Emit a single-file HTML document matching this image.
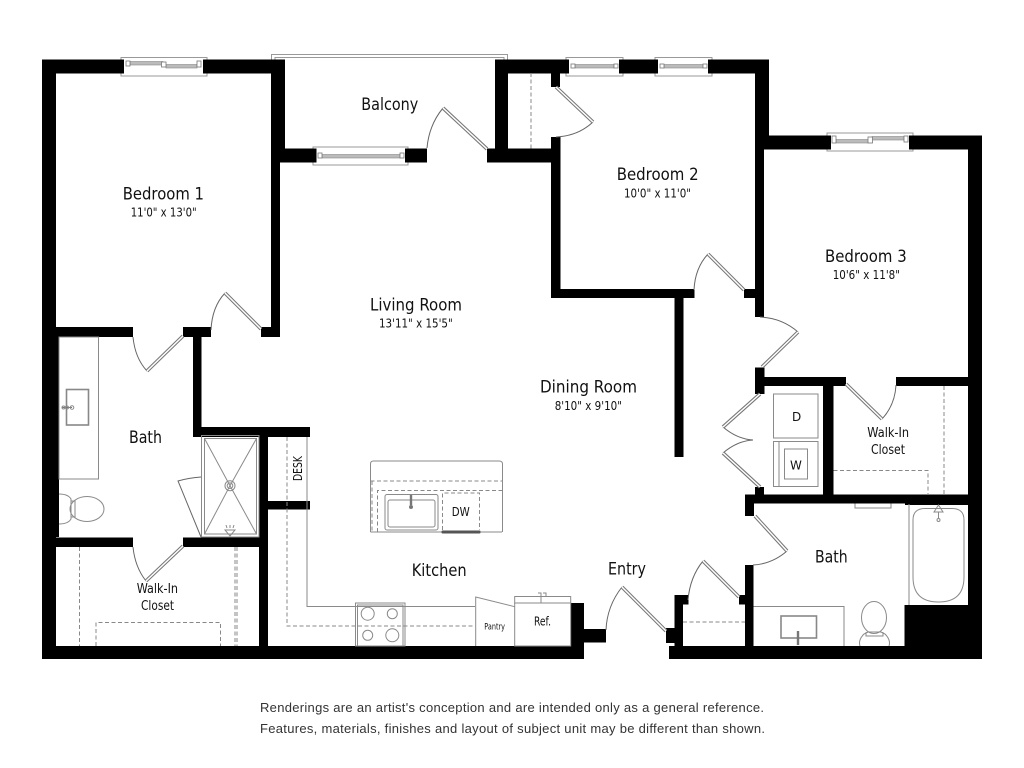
<!DOCTYPE html>
<html lang="en"><head><meta charset="utf-8"><title>Floor plan</title>
<style>
html,body{margin:0;padding:0;background:#fff;width:1024px;height:768px;overflow:hidden}
svg{display:block}
text{font-family:"DejaVu Sans","Liberation Sans",sans-serif;fill:#111}
.big{font-size:17px}.sm{font-size:12px}.mid{font-size:13px}
.foot{font-family:"Liberation Sans",Arial,sans-serif;font-size:13px;fill:#333}
.g{fill:none;stroke:#8a8a8a;stroke-width:1}
.d{fill:none;stroke:#888;stroke-width:1;stroke-dasharray:4 2.5}
.arc{fill:none;stroke:#666;stroke-width:1}
.lo{stroke:#777;stroke-width:3.6;fill:none}
.li{stroke:#fff;stroke-width:1.5;fill:none}
.w{fill:#fff;stroke:#999;stroke-width:1}
.s{fill:#bbb;stroke:#888;stroke-width:.6}
.j{fill:#fff;stroke:#777;stroke-width:.8}
</style></head><body>
<svg width="1024" height="768" viewBox="0 0 1024 768" xmlns="http://www.w3.org/2000/svg">
<rect width="1024" height="768" fill="#fff"/>

<!-- balcony rail -->
<path d="M271.5 60V54.5H507.5V60M275 60V57.5H504V60" fill="none" stroke="#999" stroke-width="1"/>

<!-- windows -->
<rect class="w" x="121" y="57.5" width="86" height="18.5"/>
<rect class="s" x="130" y="61.5" width="33" height="3.5"/><rect class="s" x="166" y="64.5" width="31" height="3.5"/>
<rect class="j" x="126" y="61" width="4" height="5"/><rect class="j" x="161.5" y="62" width="4.5" height="5"/><rect class="j" x="197" y="61" width="4" height="6"/>
<rect class="w" x="313" y="147" width="95" height="18"/>
<rect class="s" x="322" y="154.5" width="78" height="3.5"/>
<rect class="j" x="318" y="153" width="4" height="5"/><rect class="j" x="400" y="153" width="4" height="5"/>
<rect class="w" x="566" y="57.5" width="57" height="18.5"/>
<rect class="s" x="575" y="64.5" width="39" height="3.5"/>
<rect class="j" x="571" y="64" width="4" height="4"/><rect class="j" x="614" y="64" width="4" height="4"/>
<rect class="w" x="655" y="57.5" width="57" height="18.5"/>
<rect class="s" x="664" y="64.5" width="39" height="3.5"/>
<rect class="j" x="660" y="64" width="4" height="4"/><rect class="j" x="703" y="64" width="4" height="4"/>
<rect class="w" x="827" y="133" width="86" height="18"/>
<rect class="s" x="836" y="139.5" width="33" height="3.5"/><rect class="s" x="872" y="136.5" width="32" height="3.5"/>
<rect class="j" x="832" y="136" width="4" height="7"/><rect class="j" x="868" y="137" width="4.5" height="6"/><rect class="j" x="904" y="136" width="4" height="6"/>

<!-- walls -->
<g fill="#000">
<rect x="42" y="59.5" width="14" height="599.5"/>
<rect x="42" y="59.5" width="82" height="14"/>
<rect x="203" y="59.5" width="82" height="14"/>
<rect x="271" y="59.5" width="14" height="103"/>
<rect x="271" y="148.5" width="45.5" height="14"/>
<rect x="271" y="162" width="9" height="175"/>
<rect x="405" y="148.5" width="22" height="14"/>
<rect x="487" y="148.5" width="65" height="14"/>
<rect x="495" y="59.5" width="13" height="90"/>
<rect x="495" y="59.5" width="74" height="14"/>
<rect x="551" y="73" width="9" height="14"/>
<rect x="551" y="137" width="9.5" height="161"/>
<rect x="619" y="59.5" width="39" height="14"/>
<rect x="708" y="59.5" width="61" height="14"/>
<rect x="755" y="59.5" width="14" height="90"/>
<rect x="755" y="135.5" width="76" height="14"/>
<rect x="755" y="149" width="9" height="168"/>
<rect x="909" y="135.5" width="73" height="14"/>
<rect x="968" y="135.5" width="14" height="523.5"/>
<rect x="551" y="289" width="143.5" height="9"/>
<rect x="744" y="289" width="12" height="9"/>
<rect x="674.5" y="297" width="9" height="160"/>
<rect x="56" y="327" width="77" height="10"/>
<rect x="183" y="327" width="28" height="10"/>
<rect x="261" y="327" width="19" height="10"/>
<rect x="193" y="336" width="8.5" height="101"/>
<rect x="193" y="427" width="117" height="10"/>
<rect x="259" y="427" width="9" height="225"/>
<rect x="268" y="501" width="42" height="8.5"/>
<rect x="56" y="537.5" width="77" height="9.5"/>
<rect x="183" y="537.5" width="76" height="9.5"/>
<rect x="42" y="646" width="542" height="13"/>
<rect x="669" y="646" width="313" height="13"/>
<rect x="571" y="603" width="13" height="44"/>
<rect x="579" y="629" width="27" height="13.5"/>
<rect x="666" y="628" width="8.5" height="15"/>
<rect x="674.5" y="595" width="8.5" height="52"/>
<rect x="674.5" y="595" width="14" height="9.5"/>
<rect x="739" y="595" width="6" height="9.5"/>
<rect x="745" y="565" width="8.5" height="82"/>
<rect x="745" y="495" width="9" height="21"/>
<rect x="745" y="494.5" width="223" height="9"/>
<rect x="755" y="487" width="9" height="8"/>
<rect x="755" y="367.5" width="9.5" height="26.5"/>
<rect x="764" y="377" width="82" height="9"/>
<rect x="896" y="377" width="72" height="9"/>
<rect x="823" y="385" width="10.5" height="110"/>
<rect x="904.5" y="605" width="64" height="42"/>
<rect x="905" y="503" width="64" height="2"/>
</g>

<!-- wall left thin strip in bath -->
<rect x="56" y="337" width="3" height="200" fill="#000"/>

<!-- door swings -->
<g class="arc">
<path d="M133 337Q135 358 147 371"/>
<path d="M211 330Q212 307 225 293"/>
<path d="M133 547Q135 567 146 581"/>
<path d="M427 148Q429 125 443 108"/>
<path d="M593 122Q578 136 556 137"/>
<path d="M694 290Q695 268 708 254"/>
<path d="M760 317Q782 318 798 332"/>
<path d="M896 385Q895 405 882 419"/>
<path d="M723 427Q737 439 753 440Q737 441 723 453"/>
<path d="M787 551Q772 564 753 565"/>
<path d="M688 600Q690 577 703 561"/>
<path d="M606 630Q607 606 622 587"/>
<path d="M201 477Q188 478 178 481L201 537"/>
</g>
<g class="lo">
<path d="M183 336L147 371"/><path d="M261 329L225 293"/><path d="M183 546L146 581"/>
<path d="M487 149L443 108"/><path d="M556 87L593 122"/><path d="M744 290L708 254"/>
<path d="M798 332L762 367"/><path d="M846 384L882 419"/>
<path d="M760 394L723 427"/><path d="M760 487L723 453"/>
<path d="M755 516L787 551"/><path d="M739 597L703 561"/><path d="M666 631L622 587"/>
</g>
<g class="li">
<path d="M183 336L147 371"/><path d="M261 329L225 293"/><path d="M183 546L146 581"/>
<path d="M487 149L443 108"/><path d="M556 87L593 122"/><path d="M744 290L708 254"/>
<path d="M798 332L762 367"/><path d="M846 384L882 419"/>
<path d="M760 394L723 427"/><path d="M760 487L723 453"/>
<path d="M755 516L787 551"/><path d="M739 597L703 561"/><path d="M666 631L622 587"/>
</g>

<!-- closet dashes -->
<g class="d">
<path d="M531 73V149"/>
<path d="M79.5 547V646"/>
<path d="M235 547V646M237 547V646"/>
<path d="M96 646V622.5H220.5V646"/>
<path d="M944 386V495"/>
<path d="M833.5 470.5H928V495"/>
<path d="M683 622H745"/>
<path d="M287 437V626H475"/>
<path d="M370.5 481H502"/>
<path d="M372 481V532M377.5 532V490.5H502"/>
<path d="M442.5 530V493H479.5V530"/>
</g>

<!-- left bath fixtures -->
<rect class="g" x="59" y="337" width="39.5" height="142"/>
<rect x="66.5" y="389.5" width="22" height="35.5" fill="none" stroke="#888" stroke-width="1.6"/>
<path d="M62 407.5H72" stroke="#777" stroke-width="1" fill="none"/>
<circle class="g" cx="63.5" cy="407.5" r="1.5"/><circle class="g" cx="67" cy="407.5" r="1.5"/><circle class="g" cx="72" cy="407.5" r="1.8"/>
<ellipse class="g" cx="87" cy="509" rx="17" ry="12.5"/>
<path class="g" d="M59 494Q68 494 71 499V519Q68 524 59 524M71 501H75V517H71"/>

<!-- shower -->
<rect class="g" x="201.5" y="435.5" width="57.5" height="101.5"/>
<rect class="g" x="204.5" y="438.5" width="52" height="95.5"/>
<path class="g" d="M204.5 438.5L230 485.7L256.5 438.5M204.5 534L230 485.7L256.5 534"/>
<circle class="g" cx="230" cy="485.7" r="5"/><circle class="g" cx="230" cy="485.7" r="2.8"/>
<path class="g" d="M225 530H235L230 536ZM227 528L226 525M230 528V525M233 528L234 525"/>

<!-- desk, counter -->
<path class="g" d="M307 437V606.5H475"/>

<!-- range -->
<rect class="g" x="355.5" y="603" width="49.5" height="43"/>
<rect class="g" x="357.5" y="605" width="45.5" height="41"/>
<circle class="g" cx="367.7" cy="613.7" r="6.5"/><circle class="g" cx="392.3" cy="613.7" r="5"/>
<circle class="g" cx="367.7" cy="635.3" r="5"/><circle class="g" cx="392.3" cy="635.3" r="6.5"/>

<!-- island -->
<path class="g" d="M370.5 532V464Q370.5 461 373.5 461H499Q502.5 461 502.5 464V532"/>
<path class="g" d="M370.5 532H442M480 532H502"/>
<rect class="g" x="385" y="494.5" width="53" height="35.5" rx="2"/>
<rect class="g" x="388" y="500" width="47" height="27" rx="2"/>
<path d="M411 495V505" stroke="#777" stroke-width="2.4" fill="none"/><circle cx="411" cy="507" r="2" fill="#777"/>
<rect x="441.5" y="530.5" width="39" height="3" rx="1" fill="#555"/>

<!-- pantry, fridge -->
<path class="g" d="M475.7 646V597L514.7 606.7"/>
<rect class="g" x="514.7" y="603" width="56" height="43"/>
<rect class="g" x="514.7" y="596.5" width="56" height="6.5"/>
<path class="g" d="M541 596.5V603M538 593H541V596M543 593H546V596"/>

<!-- laundry -->
<rect class="g" x="773.5" y="394" width="44.5" height="44"/>
<rect class="g" x="773.5" y="441.5" width="44.5" height="45"/>
<path class="g" d="M779 441.5V486.5"/>
<rect class="g" x="784.5" y="449" width="23" height="30"/>

<!-- right bath -->
<path class="g" d="M909 504V605M855 503.5V508H891V503.5"/>
<path class="g" d="M913 520Q913 508.5 925 508.5H952Q964 508.5 964 520V577Q964 602 938.5 602Q913 602 913 577Z"/>
<path class="g" d="M938.5 505L934 512H943ZM938.5 512V519"/><circle class="g" cx="938.5" cy="520" r="1.5"/>
<path class="g" d="M753.5 606.5H844V646"/>
<rect x="781" y="616" width="35.5" height="22" fill="none" stroke="#888" stroke-width="1.6"/>
<path d="M798 631V645" stroke="#777" stroke-width="2.4" fill="none"/>
<ellipse class="g" cx="874" cy="617.5" rx="12.5" ry="16"/>
<path class="g" d="M860 646Q858 640 864 634L868 632H881L885 634Q891 640 889 646M866 632V636H883V632"/>

<!-- labels -->
<text class="big" x="122.7" y="199.5" textLength="81.3" lengthAdjust="spacingAndGlyphs">Bedroom 1</text>
<text class="sm" x="130.7" y="216.5" textLength="66" lengthAdjust="spacingAndGlyphs">11'0" x 13'0"</text>
<text class="big" x="361.3" y="110" textLength="57" lengthAdjust="spacingAndGlyphs">Balcony</text>
<text class="big" x="616.7" y="180" textLength="82" lengthAdjust="spacingAndGlyphs">Bedroom 2</text>
<text class="sm" x="624" y="197.5" textLength="67" lengthAdjust="spacingAndGlyphs">10'0" x 11'0"</text>
<text class="big" x="825" y="262" textLength="81.7" lengthAdjust="spacingAndGlyphs">Bedroom 3</text>
<text class="sm" x="832.7" y="279" textLength="67.3" lengthAdjust="spacingAndGlyphs">10'6" x 11'8"</text>
<text class="big" x="370" y="310.5" textLength="92" lengthAdjust="spacingAndGlyphs">Living Room</text>
<text class="sm" x="379" y="327.5" textLength="73.7" lengthAdjust="spacingAndGlyphs">13'11" x 15'5"</text>
<text class="big" x="540" y="392.5" textLength="97" lengthAdjust="spacingAndGlyphs">Dining Room</text>
<text class="sm" x="554.7" y="410" textLength="67.3" lengthAdjust="spacingAndGlyphs">8'10" x 9'10"</text>
<text class="big" x="411.7" y="576" textLength="55" lengthAdjust="spacingAndGlyphs">Kitchen</text>
<text class="big" x="608" y="574.5" textLength="38" lengthAdjust="spacingAndGlyphs">Entry</text>
<text class="big" x="129" y="443" textLength="33" lengthAdjust="spacingAndGlyphs">Bath</text>
<text class="big" x="815" y="562.5" textLength="32.7" lengthAdjust="spacingAndGlyphs">Bath</text>
<text class="mid" x="136.7" y="593" textLength="41.3" lengthAdjust="spacingAndGlyphs">Walk-In</text>
<text class="mid" x="141" y="610" textLength="33" lengthAdjust="spacingAndGlyphs">Closet</text>
<text class="mid" x="867.3" y="437" textLength="41.7" lengthAdjust="spacingAndGlyphs">Walk-In</text>
<text class="mid" x="871" y="454" textLength="34" lengthAdjust="spacingAndGlyphs">Closet</text>
<text class="sm" x="792" y="421">D</text>
<text class="sm" x="790" y="469.5">W</text>
<text class="sm" x="451.7" y="516" textLength="18" lengthAdjust="spacingAndGlyphs">DW</text>
<text class="sm" transform="translate(302,481) rotate(-90)" textLength="25" lengthAdjust="spacingAndGlyphs">DESK</text>
<text x="484.3" y="629.5" font-size="9" textLength="20.7" lengthAdjust="spacingAndGlyphs">Pantry</text>
<text class="sm" x="534" y="625.5" textLength="17" lengthAdjust="spacingAndGlyphs">Ref.</text>
<text class="foot" x="260" y="712" textLength="504" lengthAdjust="spacing">Renderings are an artist's conception and are intended only as a general reference.</text>
<text class="foot" x="260" y="733" textLength="505" lengthAdjust="spacing">Features, materials, finishes and layout of subject unit may be different than shown.</text>
</svg>
</body></html>
